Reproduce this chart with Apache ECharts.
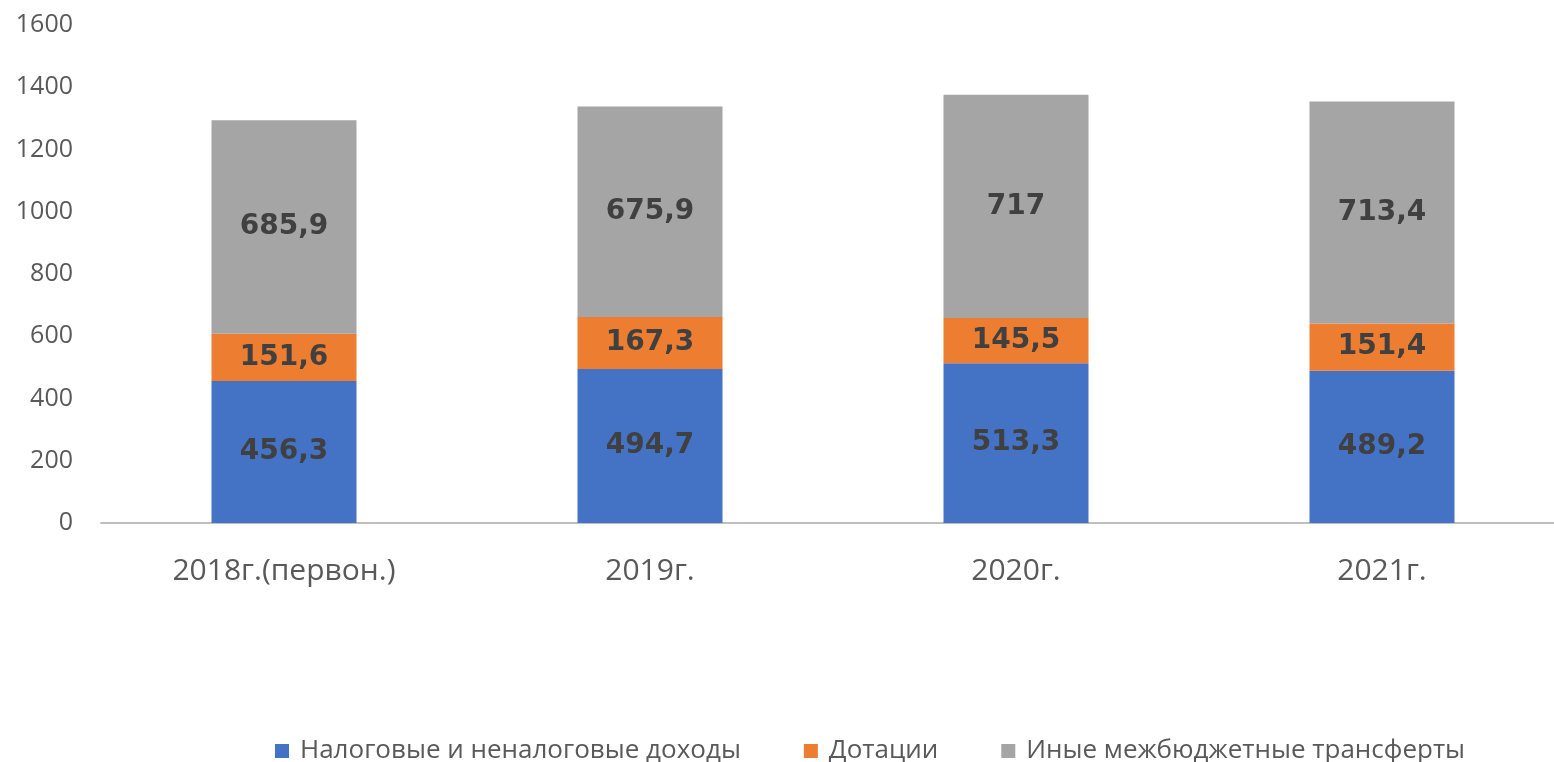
<!DOCTYPE html>
<html>
<head>
<meta charset="utf-8">
<script src="https://cdn.jsdelivr.net/npm/echarts@6/dist/echarts.min.js"></script>
<style>
  html, body { margin: 0; padding: 0; background: #fff; overflow: hidden; }
  /* plot runs a little past the right edge of the window, as in the source */
  #chart { width: 1565px; height: 762px; }
</style>
</head>
<body>
<div id="chart"></div>
<script>
// данные
const years = ['2018г.(первон.)', '2019г.', '2020г.', '2021г.'];
const taxIncome = [456.3, 494.7, 513.3, 489.2];
const dotations = [151.6, 167.3, 145.5, 151.4];
const otherTransfers = [685.9, 675.9, 717, 713.4];
const seriesNames = ['Налоговые и неналоговые доходы', 'Дотации', 'Иные межбюджетные трансферты'];
const seriesColors = ['#4472C4', '#ED7D31', '#A5A5A5'];

const chart = echarts.init(document.getElementById('chart'));

function makeSeries(name, data, color) {
    return {
        name: name,
        type: 'bar',
        stack: 'total',
        barWidth: 145,
        itemStyle: { color: color },
        label: {
            show: true,
            position: 'inside',
            color: '#404040',
            fontFamily: 'DejaVu Sans',
            fontWeight: 'bold',
            fontSize: 28,
            formatter: p => String(p.value).replace('.', ',')
        },
        data: data
    };
}

const option = {
    animation: false,
    grid: { left: 101, right: 0, top: 25, bottom: 239 },
    legend: {
        left: 275,
        top: 738,
        padding: 0,
        itemWidth: 14,
        itemHeight: 14,
        itemGap: 63,
        icon: 'rect',
        textStyle: { color: '#595959', fontSize: 26, fontFamily: 'Open Sans', padding: [0, 0, 0, 6] },
        data: seriesNames
    },
    xAxis: {
        type: 'category',
        data: years,
        axisLine: { lineStyle: { color: '#BFBFBF', width: 2 } },
        axisTick: { show: false },
        axisLabel: { color: '#595959', fontSize: 30, fontFamily: 'Open Sans', margin: 33 }
    },
    yAxis: {
        type: 'value',
        min: 0,
        max: 1600,
        interval: 200,
        splitLine: { show: false },
        axisLine: { show: false },
        axisTick: { show: false },
        axisLabel: {
            color: '#595959',
            fontSize: 25,
            fontFamily: 'Open Sans',
            margin: 28,
            formatter: v => String(v)
        }
    },
    series: [
        makeSeries(seriesNames[0], taxIncome, seriesColors[0]),
        makeSeries(seriesNames[1], dotations, seriesColors[1]),
        makeSeries(seriesNames[2], otherTransfers, seriesColors[2])
    ]
};

chart.setOption(option);
</script>
</body>
</html>
